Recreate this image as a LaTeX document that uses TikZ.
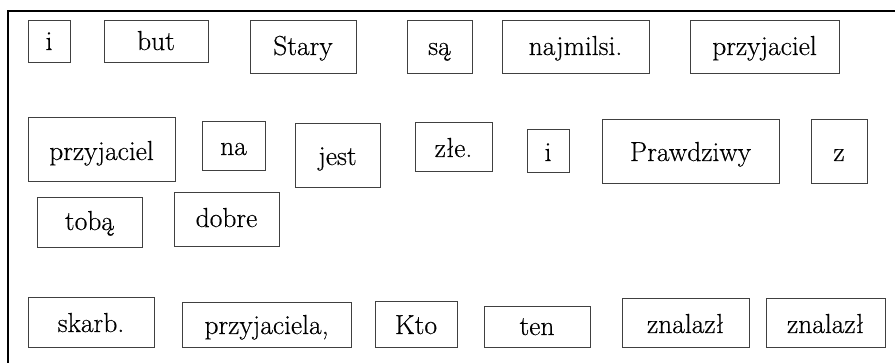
\documentclass[tikz,border=0pt]{standalone}
\usepackage{fontspec}
\newfontfamily\wordfont{Latin Modern Roman}[FakeBold=0.4]
\tikzset{
  word/.style={draw=black!75, line width=0.9pt, inner sep=0pt, anchor=base,
    align=center, font=\wordfont\fontsize{27.5}{30}\selectfont, text=black},
}
\begin{document}
\begin{tikzpicture}[x=1pt, y=-1pt]
	\useasboundingbox (0,0) rectangle (895,363);
	% frame
	\coordinate (fbl) at (8,363);
	\coordinate (ftl) at (8,11);
	\coordinate (ftr) at (895,11);
	\draw [line width=2pt] (fbl) -- (ftl) -- (ftr);

	% row 1
	\node[word, text width=42pt, text height=30pt, text depth=12pt] (i1) at (49,50) {i};
	\node[word, text width=104pt, text height=30pt, text depth=12pt] (but) at (156,50) {but};
	\node[word, text width=106pt, text height=35pt, text depth=18pt] (stary) at (303,55) {Stary};
	\node[word, text width=65pt, text height=35pt, text depth=18pt] (sa) at (439.5,55) {są};
	\node[word, text width=147pt, text height=35pt, text depth=18pt] (najmilsi) at (575.5,55) {najmilsi.};
	\node[word, text width=149pt, text height=35pt, text depth=18pt] (przyj1) at (764.5,55) {przyjaciel};

	% row 2
	\node[word, text width=147pt, text height=43pt, text depth=21pt] (przyj2) at (101.5,160) {przyjaciel};
	\node[word, text width=63pt, text height=34pt, text depth=15pt] (na) at (233.5,155) {na};
	\node[word, text width=85pt, text height=42pt, text depth=22pt] (jest) at (337.5,165) {jest};
	\node[word, text width=77pt, text height=35pt, text depth=14pt] (zle) at (453.5,157) {złe.};
	\node[word, text width=42pt, text height=32pt, text depth=11pt] (i2) at (548,161) {i};
	\node[word, text width=177pt, text height=42pt, text depth=22pt] (prawdziwy) at (690.5,161) {Prawdziwy};
	\node[word, text width=56pt, text height=42pt, text depth=22pt] (z) at (839,161) {z};

	% row 3
	\node[word, text width=105pt, text height=33pt, text depth=17pt] (toba) at (89.5,230) {tobą};
	\node[word, text width=105pt, text height=35pt, text depth=19pt] (dobre) at (226.5,227) {dobre};

	% row 4
	\node[word, text width=126pt, text height=35pt, text depth=15pt] (skarb) at (91,332) {skarb.};
	\node[word, text width=169pt, text height=32pt, text depth=13pt] (przyjaciela) at (266.5,334) {przyjaciela,};
	\node[word, text width=82pt, text height=33pt, text depth=13pt] (kto) at (416,334) {Kto};
	\node[word, text width=106pt, text height=29pt, text depth=12pt] (ten) at (537,335) {ten};
	\node[word, text width=127pt, text height=35pt, text depth=14pt] (znalazl1) at (685.5,333) {znalazł};
	\node[word, text width=119pt, text height=35pt, text depth=14pt] (znalazl2) at (825.5,333) {znalazł};
\end{tikzpicture}
\end{document}
